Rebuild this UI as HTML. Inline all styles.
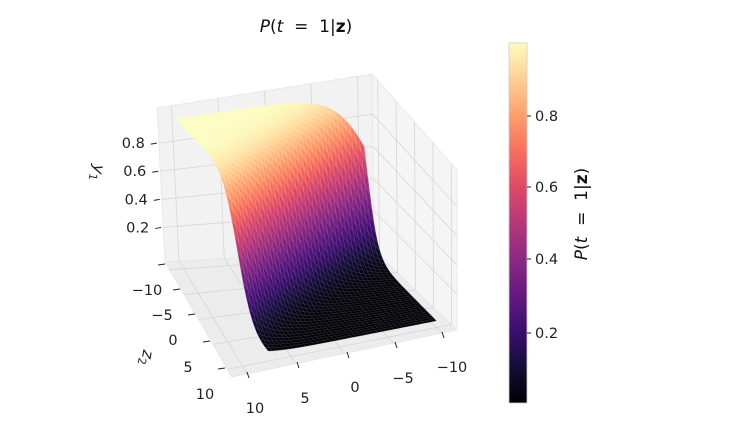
<!DOCTYPE html>
<html><head><meta charset="utf-8">
<style>
html,body{margin:0;padding:0;background:#fff;}
svg{display:block;font-family:"DejaVu Sans","Liberation Sans",sans-serif;}
</style></head>
<body>
<svg id="s" width="752" height="430" viewBox="0 0 752 430" xmlns="http://www.w3.org/2000/svg">
<defs>
<linearGradient id="cb" x1="0" y1="1" x2="0" y2="0">
<stop offset="0" stop-color="#000004"/><stop offset="0.1" stop-color="#140e36"/>
<stop offset="0.2" stop-color="#3b0f70"/><stop offset="0.3" stop-color="#641a80"/>
<stop offset="0.4" stop-color="#8c2981"/><stop offset="0.5" stop-color="#b73779"/>
<stop offset="0.6" stop-color="#de4968"/><stop offset="0.7" stop-color="#f7705c"/>
<stop offset="0.8" stop-color="#fe9f6d"/><stop offset="0.9" stop-color="#fecf92"/>
<stop offset="1" stop-color="#fcfdbf"/>
</linearGradient>
</defs>
<g id="panes"></g>
<g id="surf"></g>
<g id="axes" font-size="14.5" fill="#222"></g>
<text x="306" y="32" font-size="17" text-anchor="middle" fill="#111" xml:space="preserve"><tspan font-style="italic">P</tspan>(<tspan font-style="italic">t</tspan>  =  1|<tspan font-weight="bold">z</tspan>)</text>
<rect x="509" y="43" width="18" height="360" fill="url(#cb)" stroke="#ccc" stroke-width="0.8"/>
<g font-size="14.5" fill="#222" stroke="none">
<line x1="527" y1="116" x2="531" y2="116" stroke="#222"/><text x="535" y="121">0.8</text>
<line x1="527" y1="187" x2="531" y2="187" stroke="#222"/><text x="535" y="192">0.6</text>
<line x1="527" y1="259" x2="531" y2="259" stroke="#222"/><text x="535" y="264">0.4</text>
<line x1="527" y1="333" x2="531" y2="333" stroke="#222"/><text x="535" y="338">0.2</text>
</g>
<text transform="translate(587,214) rotate(-90)" font-size="17" text-anchor="middle" fill="#111" xml:space="preserve"><tspan font-style="italic">P</tspan>(<tspan font-style="italic">t</tspan>  =  1|<tspan font-weight="bold">z</tspan>)</text>
</svg>
<script>
(function(){
var NS="http://www.w3.org/2000/svg";
var C={};
C["000"]=[165,262];C["100"]=[374,250];C["110"]=[457,330];C["010"]=[232,377];
C["001"]=[157,108];C["101"]=[372,74];C["111"]=[457,170];C["011"]=[228,197];
function P(u,v,w){
 var r=[0,0];
 for(var a=0;a<2;a++)for(var b=0;b<2;b++)for(var c=0;c<2;c++){
  var k=(a?u:1-u)*(b?v:1-v)*(c?w:1-w);var p=C[""+a+b+c];
  r[0]+=k*p[0];r[1]+=k*p[1];}
 return r;}
var m=0.067;
function U(z1){return m+(1-2*m)*(10-z1)/20;}
function V(z2){return m+(1-2*m)*(z2+10)/20;}
function W(y){return (y+0.046)/1.096;}
function el(g,t,at){var e=document.createElementNS(NS,t);for(var k in at)e.setAttribute(k,at[k]);g.appendChild(e);return e;}
function poly(g,pts,fill,stroke,sw){return el(g,"polygon",{points:pts.map(function(p){return p[0].toFixed(1)+","+p[1].toFixed(1)}).join(" "),fill:fill,stroke:stroke||"none","stroke-width":sw||0});}
var pg=document.getElementById("panes");
poly(pg,[P(0,0,0),P(1,0,0),P(1,0,1),P(0,0,1)],"#f2f2f2","#e6e6e6",0.8);
poly(pg,[P(1,0,0),P(1,1,0),P(1,1,1),P(1,0,1)],"#f5f5f5","#e6e6e6",0.8);
poly(pg,[P(0,0,0),P(1,0,0),P(1,1,0),P(0,1,0)],"#ececec","#e6e6e6",0.8);
var ticks=[-10,-5,0,5,10], yt=[0.2,0.4,0.6,0.8];
function L(g,a,b,col,w){el(g,"line",{x1:a[0],y1:a[1],x2:b[0],y2:b[1],stroke:col,"stroke-width":w||0.8});}
var gc="#d6d6d6";
ticks.forEach(function(t){var u=U(t),v=V(t);
 L(pg,P(u,0,0),P(u,0,1),gc);L(pg,P(u,0,0),P(u,1,0),gc);
 L(pg,P(1,v,0),P(1,v,1),gc);L(pg,P(0,v,0),P(1,v,0),gc);});
yt.forEach(function(y){var w=W(y);L(pg,P(0,0,w),P(1,0,w),gc);L(pg,P(1,0,w),P(1,1,w),gc);});
var mg=[[0,0,4],[20,14,54],[59,15,112],[100,26,128],[140,41,129],[183,55,121],[222,73,104],[247,112,92],[254,159,109],[254,207,146],[252,253,191]];
function magma(t){t=Math.max(0,Math.min(1,t))*10;var i=Math.min(9,Math.floor(t)),f=t-i;var a=mg[i],b=mg[i+1];
 return [a[0]+(b[0]-a[0])*f,a[1]+(b[1]-a[1])*f,a[2]+(b[2]-a[2])*f];}
function rgb(c){return "rgb("+c.map(function(x){return Math.round(Math.max(0,Math.min(255,x)))}).join(",")+")";}
function f(z1,z2){return 1/(1+Math.exp(-(-0.73*z2+0.5*z1-1.7)));}
function SP(z1,z2,y){var p=P(U(z1),V(z2),W(y));var uu=(10-z1)/20,vv=(z2+10)/20;
 p[0]+=26*(1-uu)*vv*vv; p[1]-=5*(1-uu)*vv*vv; return p;}
var N=40,vals=[],mn=1,mx=0;
for(var i=0;i<=N;i++){vals[i]=[];for(var j=0;j<=N;j++){var z1=-10+20*i/N,z2=-10+20*j/N;var y=f(z1,z2);vals[i][j]=y;mn=Math.min(mn,y);mx=Math.max(mx,y);}}
var quads=[];
for(var i=0;i<N;i++)for(var j=0;j<N;j++){
 var pts=[],s=0;
 [[i,j],[i+1,j],[i+1,j+1],[i,j+1]].forEach(function(q){var z1=-10+20*q[0]/N,z2=-10+20*q[1]/N,y=vals[q[0]][q[1]];s+=y;pts.push(SP(z1,z2,y));});
 var uc=U(-10+20*(i+0.5)/N),vc=V(-10+20*(j+0.5)/N);
 quads.push({pts:pts,c:(s/4-mn)/(mx-mn),d:vc+(1-uc)*0.5});}
quads.sort(function(a,b){return a.d-b.d;});
var sg=document.getElementById("surf");
quads.forEach(function(q){var c=magma(q.c);var e=[c[0]*0.8+51,c[1]*0.8+51,c[2]*0.8+51];
 poly(sg,q.pts,rgb(c),rgb(e),0.35);});
var ag=document.getElementById("axes");
function T(x,y,s,anchor){var t=el(ag,"text",{x:x,y:y,"text-anchor":anchor||"middle"});t.textContent=s;}
yt.forEach(function(y){var p=P(0,0,W(y));L(ag,[p[0]-8,p[1]+1],[p[0]-2,p[1]],"#222",1);T(p[0]-14,p[1]+5,y.toFixed(1),"end");});
var z2t=[[164,264],[179,289],[194,314],[209,341],[224,368]];
var z2l=[[147,290],[162,315],[173,340],[188,367],[205,394]];
var z2s=["\u221210","\u22125","0","5","10"];
for(var k=0;k<5;k++){L(ag,[z2t[k][0]-6,z2t[k][1]+1],[z2t[k][0]+1,z2t[k][1]],"#222",1);T(z2l[k][0],z2l[k][1]+5,z2s[k]);}
var z1t=[[247,373],[297,363],[347,353],[395,343],[442,333]];
var z1l=[[255,408],[305,398],[355,387],[403,378],[452,367]];
var z1s=["10","5","0","\u22125","\u221210"];
for(var k=0;k<5;k++){L(ag,[z1t[k][0],z1t[k][1]-1],[z1t[k][0]+2,z1t[k][1]+5],"#222",1);T(z1l[k][0],z1l[k][1]+5,z1s[k]);}
var t1=el(ag,"text",{transform:"translate(93,172) rotate(100)","text-anchor":"middle","font-size":"16","font-style":"italic"});
t1.innerHTML='y<tspan font-size="11" font-style="normal" dy="3">1</tspan>';
var t2=el(ag,"text",{transform:"translate(142,357) rotate(100)","text-anchor":"middle","font-size":"16","font-style":"italic"});
t2.innerHTML='z<tspan font-size="11" font-style="normal" dy="3">2</tspan>';
})();
</script>
</body></html>
